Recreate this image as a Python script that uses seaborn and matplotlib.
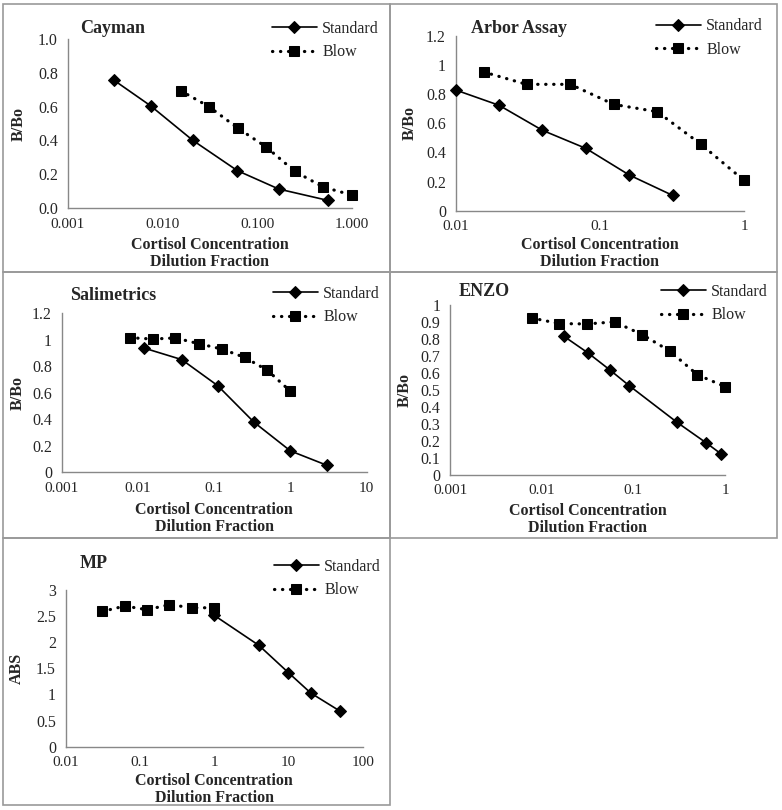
import numpy as np
import seaborn as sns
from matplotlib import pyplot as plt
from matplotlib.patches import Rectangle
from matplotlib.ticker import NullLocator

# data: dilution fraction (x) and B/Bo or ABS (y)
cayman_std_x = [0.0031, 0.0075, 0.021, 0.062, 0.17, 0.56]
cayman_std_y = [0.755, 0.605, 0.40, 0.221, 0.112, 0.045]
cayman_blow_x = [0.0156, 0.031, 0.0625, 0.125, 0.25, 0.5, 1.0]
cayman_blow_y = [0.694, 0.60, 0.473, 0.361, 0.217, 0.124, 0.077]

arbor_std_x = [0.01, 0.02, 0.04, 0.08, 0.16, 0.32]
arbor_std_y = [0.829, 0.724, 0.552, 0.428, 0.245, 0.105]
arbor_blow_x = [0.0156, 0.031, 0.0625, 0.125, 0.25, 0.5, 1.0]
arbor_blow_y = [0.953, 0.868, 0.868, 0.73, 0.68, 0.458, 0.208]

sali_std_x = [0.012, 0.0375, 0.111, 0.333, 1.0, 3.0]
sali_std_y = [0.936, 0.849, 0.653, 0.377, 0.161, 0.053]
sali_blow_x = [0.0078, 0.0156, 0.031, 0.0625, 0.125, 0.25, 0.5, 1.0]
sali_blow_y = [1.014, 1.004, 1.012, 0.969, 0.929, 0.866, 0.768, 0.61]

enzo_std_x = [0.0175, 0.032, 0.055, 0.09, 0.30, 0.62, 0.90]
enzo_std_y = [0.817, 0.719, 0.62, 0.526, 0.309, 0.189, 0.124]
enzo_blow_x = [0.0078, 0.0156, 0.031, 0.0625, 0.125, 0.25, 0.5, 1.0]
enzo_blow_y = [0.925, 0.892, 0.89, 0.902, 0.827, 0.73, 0.59, 0.52]

mp_std_x = [1, 4, 10, 20, 50]
mp_std_y = [2.515, 1.94, 1.417, 1.027, 0.677]
mp_blow_x = [0.0312, 0.0625, 0.125, 0.25, 0.5, 1.0]
mp_blow_y = [2.59, 2.693, 2.623, 2.72, 2.66, 2.66]

titles = ["Cayman", "Arbor Assay", "Salimetrics", "ENZO", "MP"]
ylabels = ["B/Bo", "B/Bo", "B/Bo", "B/Bo", "ABS"]
xlabel = "Cortisol Concentration\nDilution Fraction"

cayman_xticks = [0.001, 0.01, 0.1, 1]
cayman_xticklabels = ["0.001", "0.010", "0.100", "1.000"]
cayman_yticks = [0, 0.2, 0.4, 0.6, 0.8, 1.0]
cayman_yticklabels = ["0.0", "0.2", "0.4", "0.6", "0.8", "1.0"]

arbor_xticks = [0.01, 0.1, 1]
arbor_xticklabels = ["0.01", "0.1", "1"]
arbor_yticks = [0, 0.2, 0.4, 0.6, 0.8, 1.0, 1.2]
arbor_yticklabels = ["0", "0.2", "0.4", "0.6", "0.8", "1", "1.2"]

sali_xticks = [0.001, 0.01, 0.1, 1, 10]
sali_xticklabels = ["0.001", "0.01", "0.1", "1", "10"]
sali_yticks = arbor_yticks
sali_yticklabels = arbor_yticklabels

enzo_xticks = [0.001, 0.01, 0.1, 1]
enzo_xticklabels = ["0.001", "0.01", "0.1", "1"]
enzo_yticks = [0, 0.1, 0.2, 0.3, 0.4, 0.5, 0.6, 0.7, 0.8, 0.9, 1.0]
enzo_yticklabels = ["0", "0.1", "0.2", "0.3", "0.4", "0.5", "0.6", "0.7", "0.8", "0.9", "1"]

mp_xticks = [0.01, 0.1, 1, 10, 100]
mp_xticklabels = ["0.01", "0.1", "1", "10", "100"]
mp_yticks = [0, 0.5, 1, 1.5, 2, 2.5, 3]
mp_yticklabels = ["0", "0.5", "1", "1.5", "2", "2.5", "3"]

panels = [
    (cayman_std_x, cayman_std_y, cayman_blow_x, cayman_blow_y, cayman_xticks, cayman_xticklabels, cayman_yticks, cayman_yticklabels),
    (arbor_std_x, arbor_std_y, arbor_blow_x, arbor_blow_y, arbor_xticks, arbor_xticklabels, arbor_yticks, arbor_yticklabels),
    (sali_std_x, sali_std_y, sali_blow_x, sali_blow_y, sali_xticks, sali_xticklabels, sali_yticks, sali_yticklabels),
    (enzo_std_x, enzo_std_y, enzo_blow_x, enzo_blow_y, enzo_xticks, enzo_xticklabels, enzo_yticks, enzo_yticklabels),
    (mp_std_x, mp_std_y, mp_blow_x, mp_blow_y, mp_xticks, mp_xticklabels, mp_yticks, mp_yticklabels),
]

# layout in pixels: axes box (left, right, top, bottom), title (x, baseline),
# legend (x, top), ylabel centre x, xlabel top y, panel frame (x0, y0, x1, y1)
W, H = 782, 810
layout = [
    dict(box=(67.7, 351.7, 39, 208), title=(80, 33), leg=(272, 21), ylab=19, xlab=237, frame=(3, 4, 390, 271.5)),
    dict(box=(455.7, 744, 36, 210.7), title=(470.7, 33), leg=(656, 18.5), ylab=410, xlab=237, frame=(390, 4, 777, 271.5)),
    dict(box=(61.7, 366.7, 313, 472.3), title=(70, 300), leg=(273, 286), ylab=18, xlab=502, frame=(3, 271.5, 390, 537.7)),
    dict(box=(450, 725, 305.3, 474.7), title=(459, 296), leg=(661, 284), ylab=405, xlab=503, frame=(390, 271.5, 777, 537.7)),
    dict(box=(65.7, 362.7, 590, 746.7), title=(80, 568), leg=(274, 559), ylab=17, xlab=773, frame=(3, 537.7, 390, 805)),
]

sns.set_style('white')
plt.rcParams['font.family'] = ['Liberation Serif', 'DejaVu Serif']

fig = plt.figure(figsize=(W / 100, H / 100), dpi=100)

for (sx, sy, bx, by, xt, xtl, yt, ytl), lay, title, ylab in zip(panels, layout, titles, ylabels):
    fx0, fy0, fx1, fy1 = lay['frame']
    fig.add_artist(Rectangle((fx0 / W, 1 - fy1 / H), (fx1 - fx0) / W, (fy1 - fy0) / H,
                             transform=fig.transFigure, fill=False, edgecolor='#999999', lw=1.2))

    l, r, t, b = lay['box']
    ax = fig.add_axes([l / W, 1 - b / H, (r - l) / W, (b - t) / H])
    ax.set_facecolor('none')

    sns.lineplot(x=sx, y=sy, ax=ax, color='black', marker='D', markersize=5.8,
                 lw=1.2, label='Standard', markeredgecolor='black', clip_on=False, zorder=4)
    sns.lineplot(x=bx, y=by, ax=ax, color='black', marker='s', markersize=7,
                 lw=2.3, linestyle=(0, (0.1, 2.4)), dash_capstyle='round',
                 label='Blow', markeredgecolor='black', clip_on=False, zorder=3)

    ax.set_xscale('log')
    ax.set_xlim(xt[0], xt[-1])
    ax.set_ylim(yt[0], yt[-1])
    ax.set_xticks(xt)
    ax.set_xticklabels(xtl)
    ax.xaxis.set_minor_locator(NullLocator())
    ax.set_yticks(yt)
    ax.set_yticklabels(ytl)

    for side in ['top', 'right']:
        ax.spines[side].set_visible(False)
    for side in ['left', 'bottom']:
        ax.spines[side].set_color('#888888')
        ax.spines[side].set_linewidth(1.0)
    ax.tick_params(axis='y', direction='out', length=4, width=1, color='#888888',
                   labelsize=11.5, pad=3)
    ax.tick_params(axis='x', direction='in', length=4, width=1, color='#888888',
                   labelsize=11, pad=7)

    ax.set_ylabel(ylab, fontsize=11.5, fontweight='bold', va='center')
    ax.yaxis.set_label_coords((lay['ylab'] - l) / (r - l), 0.5)
    ax.set_xlabel(xlabel, fontsize=11.5, fontweight='bold', linespacing=1.05)
    ax.xaxis.label.set_va('top')
    ax.xaxis.set_label_coords(0.5, (b - lay['xlab']) / (b - t))

    tx, ty = lay['title']
    fig.text(tx / W, 1 - ty / H, title, fontsize=13, fontweight='bold', va='baseline')

    lx, ly = lay['leg']
    ax.legend(loc='upper left', bbox_to_anchor=(lx / W, 1 - ly / H), bbox_transform=fig.transFigure,
              frameon=False, fontsize=11.5, handlelength=2.8, handletextpad=0.35,
              labelspacing=0.45, borderpad=0, borderaxespad=0)

fig.savefig('out.png', dpi=100)
